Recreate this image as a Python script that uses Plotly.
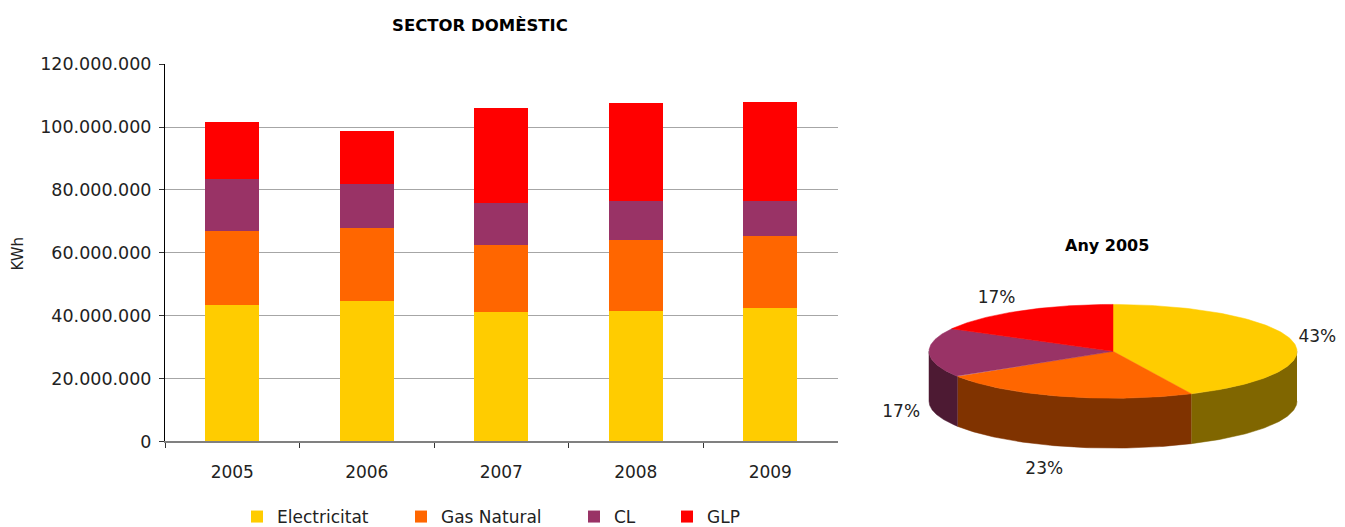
import numpy as np
import plotly.graph_objects as go

# Energy use of the domestic sector (kWh).
years = ['2005', '2006', '2007', '2008', '2009']
electricitat = [43.3e6, 44.6e6, 41.1e6, 41.4e6, 42.4e6]
gas_natural = [23.6e6, 23.2e6, 21.3e6, 22.6e6, 22.9e6]
cl = [16.5e6, 14.0e6, 13.5e6, 12.5e6, 11.2e6]
glp = [18.2e6, 16.9e6, 30.2e6, 31.1e6, 31.5e6]

series_names = ['Electricitat', 'Gas Natural', 'CL', 'GLP']

# Shares of the 2005 pie (%), as labelled.
pie_share = [43, 23, 17, 17]

y_ticks = [0, 20e6, 40e6, 60e6, 80e6, 100e6, 120e6]

# The capture comes out squeezed to 527px tall from a 535px tall page,
# so the figure is laid out 535px tall.
W, H = 1345, 535
SY = H / 527
FONT = 'DejaVu Sans'
TEXT = '#222222'

colors = ['#FFCC00', '#FF6600', '#993366', '#FF0000']
side_colors = ['#806600', '#803300', '#4D1A33', '#800000']


def px_x(p):
    return p / W


def px_y(p):
    return 1 - p * SY / H


data = []

# Stacked bars.
for name, values, color, leg in zip(series_names, [electricitat, gas_natural, cl, glp],
                                    colors, ['legend', 'legend2', 'legend3', 'legend4']):
    data.append(
        go.Bar(
            x=years,
            y=values,
            name=name,
            marker=dict(color=color, line=dict(width=0)),
            legend=leg,
            xaxis='x',
            yaxis='y',
            hovertemplate='%{x}: %{y:,.0f}<extra>' + name + '</extra>'
        )
    )

# Pseudo 3D pie for 2005 (units: x radius = 1).
rx, ry, depth = 1.0, 47 / 184, 50 / 184
cum = np.cumsum([0] + pie_share) / sum(pie_share)
starts = 90 - 360 * cum[:-1]
ends = 90 - 360 * cum[1:]

# Side walls (front half only).
for a0, a1, c in zip(starts, ends, side_colors):
    hi = min(a0, 0)
    lo = max(a1, -180)
    if hi > lo:
        t = np.radians(np.linspace(hi, lo, 80))
        x = rx * np.cos(t)
        y = ry * np.sin(t)
        data.append(
            go.Scatter(
                x=np.concatenate([x, x[::-1]]),
                y=np.concatenate([y, y[::-1] - depth]),
                mode='lines',
                fill='toself',
                fillcolor=c,
                line=dict(color=c, width=0.5),
                showlegend=False,
                hoverinfo='skip',
                xaxis='x2',
                yaxis='y2'
            )
        )

# Top faces.
for a0, a1, c, name, s in zip(starts, ends, colors, series_names, pie_share):
    t = np.radians(np.linspace(a0, a1, 120))
    data.append(
        go.Scatter(
            x=np.concatenate([[0], rx * np.cos(t), [0]]),
            y=np.concatenate([[0], ry * np.sin(t), [0]]),
            mode='lines',
            fill='toself',
            fillcolor=c,
            line=dict(color=c, width=0.5),
            showlegend=False,
            name=name,
            hovertemplate=name + ': ' + str(s) + '%<extra></extra>',
            xaxis='x2',
            yaxis='y2'
        )
    )

# Percentage labels, outside the rim.
mid = np.radians((starts + ends) / 2)
lab_x = 1.15 * rx * np.cos(mid) - 0.055 * np.abs(np.sin(mid))
lab_y = 1.3 * ry * np.sin(mid) - np.where(np.sin(mid) < 0, depth + 10 / 184, 0)
data.append(
    go.Scatter(
        x=lab_x,
        y=lab_y,
        mode='text',
        text=[f'{s}%' for s in pie_share],
        textposition='middle center',
        textfont=dict(family=FONT, size=17, color=TEXT),
        showlegend=False,
        hoverinfo='skip',
        xaxis='x2',
        yaxis='y2'
    )
)

legend_common = dict(
    orientation='h',
    yanchor='middle',
    xanchor='left',
    y=px_y(518),
    bgcolor='rgba(0,0,0,0)',
    borderwidth=0,
    font=dict(family=FONT, size=17, color=TEXT),
)

layout = dict(
    width=W,
    height=H,
    margin=dict(t=0, r=0, b=0, l=0, pad=0),
    plot_bgcolor='white',
    paper_bgcolor='white',
    separators=',.',
    font=dict(family=FONT, size=17, color=TEXT),
    barmode='stack',
    bargap=0.596,
    xaxis=dict(
        domain=[px_x(165), px_x(837.5)],
        anchor='y',
        type='category',
        automargin=False,
        fixedrange=True,
        showgrid=False,
        zeroline=False,
        showline=True,
        linecolor='#808080',
        linewidth=1.5,
        ticks='outside',
        tickson='boundaries',
        ticklen=5,
        tickcolor='#333333',
        ticklabelstandoff=14,
        tickfont=dict(family=FONT, size=17, color=TEXT),
    ),
    yaxis=dict(
        domain=[px_y(442.3), px_y(64.3)],
        anchor='x',
        range=[0, 120e6],
        automargin=False,
        fixedrange=True,
        tickvals=y_ticks,
        tickformat=',d',
        showgrid=True,
        gridcolor='#A6A6A6',
        gridwidth=1,
        zeroline=False,
        showline=True,
        linecolor='#000000',
        linewidth=1,
        ticks='outside',
        ticklen=5,
        tickcolor='#333333',
        ticklabelstandoff=4,
        tickfont=dict(family=FONT, size=17.5, color=TEXT),
    ),
    xaxis2=dict(
        domain=[px_x(873), px_x(1345)],
        anchor='y2',
        range=[-240 / 184, 232 / 184],
        visible=False,
        fixedrange=True,
        automargin=False,
    ),
    yaxis2=dict(
        domain=[px_y(500), px_y(250)],
        anchor='x2',
        range=[-148 / 184, 102 / 184],
        visible=False,
        fixedrange=True,
        automargin=False,
    ),
    legend=dict(legend_common, x=px_x(237)),
    legend2=dict(legend_common, x=px_x(401)),
    legend3=dict(legend_common, x=px_x(574)),
    legend4=dict(legend_common, x=px_x(667)),
    annotations=[
        dict(text='<b>SECTOR DOMÈSTIC</b>', x=px_x(480), y=px_y(26), xref='paper', yref='paper',
             showarrow=False, xanchor='center', yanchor='middle',
             font=dict(family=FONT, size=16.5, color='#000000')),
        dict(text='KWh', x=px_x(18), y=px_y(254), xref='paper', yref='paper', textangle=-90,
             showarrow=False, xanchor='center', yanchor='middle',
             font=dict(family=FONT, size=15, color=TEXT)),
        dict(text='<b>Any 2005</b>', x=px_x(1107), y=px_y(246), xref='paper', yref='paper',
             showarrow=False, xanchor='center', yanchor='middle',
             font=dict(family=FONT, size=16, color='#000000')),
    ],
)

fig = go.Figure(data=data, layout=layout)
# Drop the default body margin so the figure starts at the window corner.
fig.write_html('out.html', config={'displayModeBar': False},
               post_script="document.body.style.margin = '0';")
